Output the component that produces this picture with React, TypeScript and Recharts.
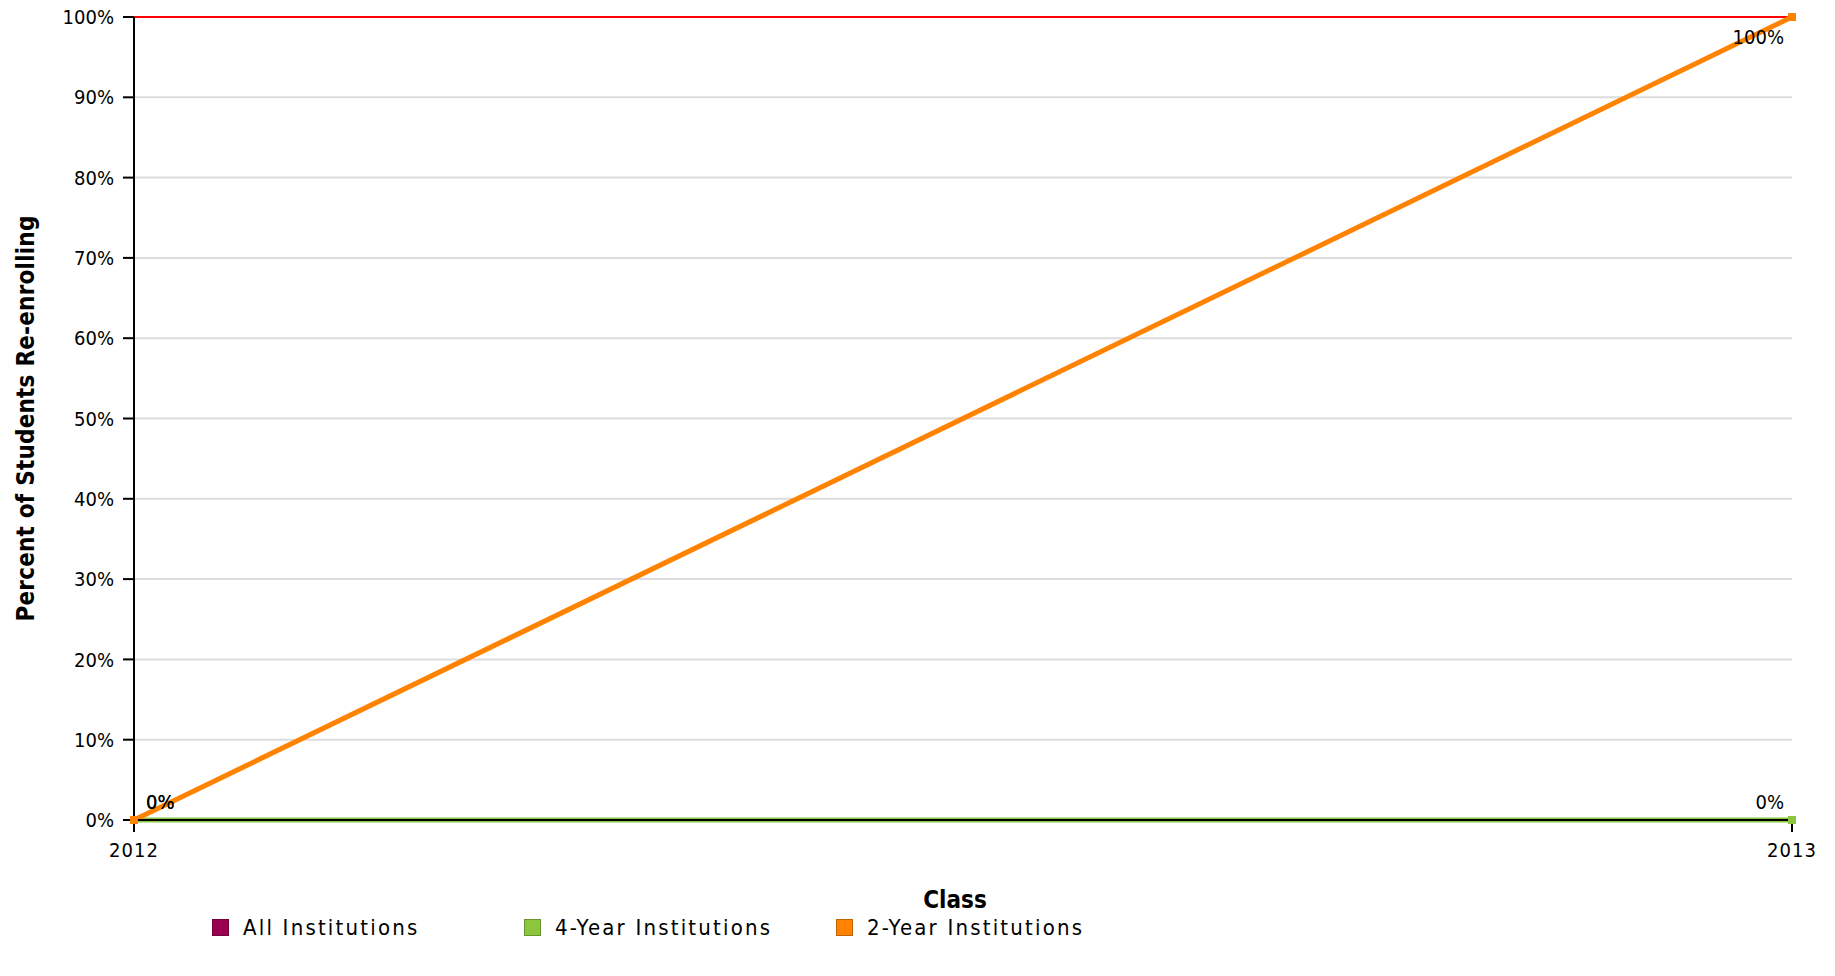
import React from 'react';
import { LineChart, Line, XAxis, YAxis, CartesianGrid, Legend, ReferenceLine, Label, LabelList } from 'recharts';

// Chart values
const classes = ['2012', '2013'];
const allInstitutions: (number | null)[] = [null, null];
const fourYear = [0, 0];
const twoYear = [0, 100];
const percentTicks = [0, 10, 20, 30, 40, 50, 60, 70, 80, 90, 100];

const seriesNames = ['All Institutions', '4-Year Institutions', '2-Year Institutions'];
const seriesColors = ['#990050', '#8cc63f', '#ff8300'];

const chartData = classes.map((c, i) => ({
  year: c,
  all: allInstitutions[i],
  four: fourYear[i],
  two: twoYear[i],
}));

const FONT = "'DejaVu Sans Condensed', 'DejaVu Sans', sans-serif";

const SquareDot = (props: any) => {
  const { cx, cy, fill } = props;
  if (cx == null || cy == null) return null;
  return <rect x={cx - 4} y={cy - 4} width={8} height={8} fill={fill} />;
};

const PointLabel = (props: any) => {
  const { x, y, value, index } = props;
  if (value == null) return null;
  const last = index === classes.length - 1;
  const atTop = value >= 100;
  return (
    <text
      x={last ? x - 8 : x + 12}
      y={atTop ? y + 20 : y - 18}
      textAnchor={last ? 'end' : 'start'}
      dominantBaseline="central"
      fontFamily={FONT}
      fontStretch="condensed"
      fontSize={20}
      fill="#000"
    >
      {value}%
    </text>
  );
};

const YTitle = (props: any) => {
  const { viewBox } = props;
  const cy = viewBox.y + viewBox.height / 2;
  return (
    <text
      x={26}
      y={cy}
      transform={`rotate(-90, 26, ${cy})`}
      textAnchor="middle"
      dominantBaseline="central"
      fontFamily={FONT}
      fontStretch="condensed"
      fontWeight="bold"
      fontSize={24}
      letterSpacing={0.2}
      fill="#000"
    >
      Percent of Students Re-enrolling
    </text>
  );
};

// legend drawn in the series order, not the order recharts hands back
const LegendContent = () => (
  <div style={{ display: 'flex' }}>
    {seriesNames.map((name, i) => (
      <div key={name} style={{ width: 312, display: 'flex', alignItems: 'center' }}>
        <span
          style={{
            display: 'inline-block',
            width: 15,
            height: 15,
            background: seriesColors[i],
            border: '1px solid rgba(0,0,0,0.25)',
            marginRight: 14,
          }}
        />
        <span style={{ fontFamily: FONT, fontStretch: 'condensed', fontSize: 22, letterSpacing: 2.2, color: '#000' }}>
          {name}
        </span>
      </div>
    ))}
  </div>
);

const App: React.FC = () => {
  return (
    <div style={{ position: 'absolute', left: 0, top: 0, background: '#fff' }}>
      <LineChart width={1835} height={976} data={chartData} margin={{ top: 17, right: 43, bottom: 66, left: 0 }}>
        <CartesianGrid vertical={false} stroke="#dcdcdc" strokeWidth={2} />
        <XAxis
          dataKey="year"
          height={90}
          padding={{ left: 0, right: 0 }}
          axisLine={{ stroke: '#000', strokeWidth: 2 }}
          tickLine={{ stroke: '#000', strokeWidth: 2 }}
          tickSize={12}
          tickMargin={11}
          tick={{ fill: '#000', fontSize: 20, fontFamily: FONT, letterSpacing: 1 }}
        >
          <Label
            value="Class"
            position="insideBottom"
            offset={2}
            dx={-8}
            style={{ fontFamily: FONT, fontStretch: 'condensed', fontWeight: 'bold', fontSize: 24, fill: '#000' }}
          />
        </XAxis>
        <YAxis
          width={134}
          domain={[0, 100]}
          ticks={percentTicks}
          tickFormatter={(v: number) => `${v}%`}
          axisLine={{ stroke: '#000', strokeWidth: 2 }}
          tickLine={{ stroke: '#000', strokeWidth: 2 }}
          tickSize={11}
          tickMargin={9}
          tick={{ fill: '#000', fontSize: 20, fontFamily: FONT }}
        >
          <Label content={<YTitle />} />
        </YAxis>
        <ReferenceLine y={100} stroke="#ff0000" strokeWidth={2} />
        <Legend
          verticalAlign="middle"
          align="center"
          layout="horizontal"
          content={<LegendContent />}
          wrapperStyle={{ position: 'absolute', top: 915, left: 212, width: 1000 }}
        />
        <Line
          dataKey="all"
          name={seriesNames[0]}
          stroke={seriesColors[0]}
          fill={seriesColors[0]}
          strokeWidth={4}
          dot={false}
          isAnimationActive={false}
        />
        <Line
          dataKey="four"
          name={seriesNames[1]}
          stroke={seriesColors[1]}
          fill={seriesColors[1]}
          strokeWidth={5}
          dot={<SquareDot />}
          isAnimationActive={false}
        >
          <LabelList dataKey="four" content={<PointLabel />} />
        </Line>
        <Line
          dataKey="two"
          name={seriesNames[2]}
          stroke={seriesColors[2]}
          fill={seriesColors[2]}
          strokeWidth={5}
          dot={<SquareDot />}
          isAnimationActive={false}
        >
          <LabelList dataKey="two" content={<PointLabel />} />
        </Line>
      </LineChart>
    </div>
  );
};

export default App;
